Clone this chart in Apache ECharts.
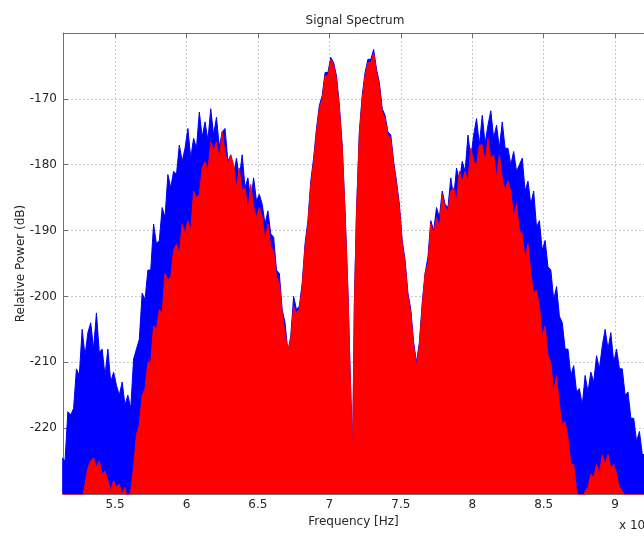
<!DOCTYPE html>
<html>
<head>
<meta charset="utf-8">
<title>Signal Spectrum</title>
<script src="https://cdn.jsdelivr.net/npm/echarts@6/dist/echarts.min.js"></script>
<style>
  html, body { margin: 0; padding: 0; background: #fff; }
  #spectrum { width: 644px; height: 539px; }
</style>
</head>
<body>
<div id="spectrum"></div>
<script>
// frequency in units of 1e9 Hz
var freqGHz = [
    5.13, 5.15, 5.17, 5.19, 5.21, 5.23, 5.25, 5.27, 5.29, 5.31,
    5.33, 5.35, 5.37, 5.39, 5.41, 5.43, 5.45, 5.47, 5.49, 5.51,
    5.53, 5.55, 5.57, 5.59, 5.61, 5.63, 5.65, 5.67, 5.69, 5.71,
    5.73, 5.75, 5.77, 5.79, 5.81, 5.83, 5.85, 5.87, 5.89, 5.91,
    5.93, 5.95, 5.97, 5.99, 6.01, 6.03, 6.05, 6.07, 6.09, 6.11,
    6.13, 6.15, 6.17, 6.19, 6.21, 6.23, 6.25, 6.27, 6.29, 6.31,
    6.33, 6.35, 6.37, 6.39, 6.41, 6.43, 6.45, 6.47, 6.49, 6.51,
    6.53, 6.55, 6.57, 6.59, 6.61, 6.63, 6.65, 6.67, 6.69, 6.71,
    6.73, 6.75, 6.77, 6.79, 6.81, 6.83, 6.85, 6.87, 6.89, 6.91,
    6.93, 6.95, 6.97, 6.99, 7.01, 7.03, 7.05, 7.07, 7.09, 7.11,
    7.13, 7.145, 7.155, 7.162, 7.168, 7.175, 7.19, 7.21, 7.23, 7.25,
    7.27, 7.29, 7.31, 7.33, 7.35, 7.37, 7.39, 7.41, 7.43, 7.45,
    7.47, 7.49, 7.51, 7.53, 7.55, 7.57, 7.59, 7.61, 7.63, 7.65,
    7.67, 7.69, 7.71, 7.73, 7.75, 7.77, 7.79, 7.81, 7.83, 7.85,
    7.87, 7.89, 7.91, 7.93, 7.95, 7.97, 7.99, 8.01, 8.03, 8.05,
    8.07, 8.09, 8.11, 8.13, 8.15, 8.17, 8.19, 8.21, 8.23, 8.25,
    8.27, 8.29, 8.31, 8.33, 8.35, 8.37, 8.39, 8.41, 8.43, 8.45,
    8.47, 8.49, 8.51, 8.53, 8.55, 8.57, 8.59, 8.61, 8.63, 8.65,
    8.67, 8.69, 8.71, 8.73, 8.75, 8.77, 8.79, 8.81, 8.83, 8.85,
    8.87, 8.89, 8.91, 8.93, 8.95, 8.97, 8.99, 9.01, 9.03, 9.05,
    9.07, 9.09, 9.11, 9.13, 9.15, 9.17, 9.19, 9.21, 9.23, 9.25,
    9.27, 9.29, 9.31
];

// blue trace (drawn behind)
var bluePower = [
    -224.5, -225, -217.5, -218, -217, -211, -212, -205, -209, -205.5,
    -204, -208, -202.5, -208.5, -208, -212, -208, -213, -211.5, -213.5,
    -215, -213, -216.5, -215, -217, -209.5, -208, -206.5, -199.5, -200.5,
    -196, -196, -189, -192, -191.5, -186.5, -188, -181.5, -183.5, -181,
    -181.5, -177, -179.5, -177.5, -174.5, -179, -176, -177.5, -172, -175.8,
    -173.5, -176.3, -171.5, -175.5, -172.8, -177.3, -175, -174.5, -179.5, -178.5,
    -181.5, -179, -182, -178.5, -183.5, -182, -185.5, -182, -185.5, -184.5,
    -186, -189, -187, -190.5, -191, -196, -196.5, -202, -204, -208.5,
    -206, -200, -202, -201.5, -198, -192, -188.5, -182.5, -179, -174.5,
    -171, -169.5, -166, -166, -163.7, -164.5, -166.5, -171, -177, -187,
    -199, -211, -218, -224.5, -214, -201, -187, -175, -169.5, -166,
    -164, -164, -162.5, -165.5, -167.5, -171.5, -172.5, -175, -175.5, -179.5,
    -182.5, -186, -191.5, -194.5, -199.5, -202, -207, -210, -207, -201,
    -196.5, -194, -188.5, -190, -186.5, -188, -184, -186, -186.5, -182,
    -185, -180.5, -182.5, -179.5, -181, -175.5, -179, -175.5, -173, -177,
    -172.5, -176.8, -174, -171.8, -176, -174, -177.5, -173.5, -177.5, -177.5,
    -180, -178, -181, -180, -179, -184, -182.5, -186, -184, -189.5,
    -188.5, -193, -191.5, -195.5, -196, -200.5, -198.5, -203, -204, -208,
    -208, -212, -210.5, -214.5, -214, -216.5, -212, -214.5, -211.5, -213,
    -209, -211, -207.5, -205, -208, -205.5, -210, -208, -211, -211,
    -215, -214.5, -218.5, -218.5, -222, -220.5, -224, -224, -226.5, -227.5,
    -229, -230, -231
];

// red trace (drawn on top)
var redPower = [
    -232, -232, -232, -232, -232, -232, -232, -231, -228.5, -226,
    -225, -224.5, -226, -225, -227, -226.5, -228, -229.5, -228, -229,
    -228.5, -230, -229, -231, -229.5, -226, -221, -219.5, -215, -214,
    -210, -210, -204.5, -205, -202, -202.5, -196.5, -197.5, -197, -193,
    -192, -193.5, -189, -190.5, -188.5, -190, -184, -185, -184.5, -180.5,
    -179.5, -181, -176.5, -178, -176.5, -179, -175, -178, -180, -178.5,
    -180, -183.5, -180.5, -184, -183.5, -187, -183, -186.5, -188, -186.5,
    -188, -191.5, -189, -192.5, -193, -197, -198, -202.5, -205.5, -208,
    -206.5, -201.5, -202.5, -202, -198.5, -192.5, -189, -183, -179.5, -175,
    -171.5, -170, -166.5, -166.5, -164, -165, -167, -171.5, -177.5, -187.5,
    -199.5, -211.5, -218.5, -225, -214.5, -201.5, -187.5, -175.5, -170, -166.5,
    -164.5, -164.5, -163, -166, -168, -172, -173, -175.5, -176, -180,
    -183, -186.5, -192, -195, -200, -202.5, -207.5, -210.5, -207.5, -201.5,
    -196.5, -195, -189, -190.5, -188, -189.5, -184.5, -186.5, -187, -184,
    -183.5, -185.5, -181, -182.5, -181, -182.5, -177.5, -179.5, -180, -177,
    -177, -179.5, -176, -179, -178.5, -182, -178.5, -182, -184, -182.5,
    -184, -188, -186, -190, -190.5, -194.5, -192, -196.5, -199.5, -199,
    -201.5, -206, -204.5, -209, -210, -214.5, -212, -216.5, -219.5, -219,
    -221.5, -225.5, -225.5, -229.5, -231, -231.5, -229.5, -229, -227, -227.5,
    -225.5, -227, -224, -225.5, -224, -226, -225.5, -227, -229, -229.5,
    -230.5, -232, -232, -232, -232, -232, -232, -232, -232, -232,
    -232, -232, -232
];

var xTickValues = [5.5, 6, 6.5, 7, 7.5, 8, 8.5, 9];
var xRange = [5.136, 9.3];
var yRange = [-230, -160];

function pairs(xs, ys) {
    var out = [];
    for (var i = 0; i < xs.length; i++) {
        out.push([xs[i], ys[i]]);
    }
    return out;
}

var fontFamily = "'DejaVu Sans', 'Liberation Sans', sans-serif";
var fontSize = 12;
var textColor = '#262626';
var gridStyle = { color: '#c8c8c8', type: [2, 2], width: 1 };
var boxStyle = { color: '#707070', width: 1 };

var option = {
    animation: false,
    backgroundColor: '#ffffff',
    textStyle: { fontFamily: fontFamily },
    title: {
        text: 'Signal Spectrum',
        left: 350,
        top: 10,
        textAlign: 'center',
        textStyle: { fontSize: fontSize, fontWeight: 'normal', color: textColor, fontFamily: fontFamily }
    },
    // the right edge of the axes box lies outside the picture
    grid: { left: 63, top: 33, width: 595, bottom: 45, outerBoundsMode: 'none', containLabel: false },
    xAxis: [{
        type: 'value',
        position: 'bottom',
        min: xRange[0],
        max: xRange[1],
        name: 'Frequency [Hz]',
        nameLocation: 'middle',
        nameGap: 21,
        nameTextStyle: { fontSize: fontSize, color: textColor, fontFamily: fontFamily, padding: [0, 14, 0, 0] },
        axisLine: { show: true, lineStyle: boxStyle },
        axisTick: { show: true, inside: true, length: 5, customValues: xTickValues, lineStyle: boxStyle },
        axisLabel: { customValues: xTickValues, margin: 5, fontSize: fontSize, color: textColor, fontFamily: fontFamily },
        splitLine: { show: true, lineStyle: gridStyle }
    }, {
        type: 'value',
        position: 'top',
        min: xRange[0],
        max: xRange[1],
        axisLine: { show: true, lineStyle: boxStyle },
        axisTick: { show: true, inside: true, length: 5, customValues: xTickValues, lineStyle: boxStyle },
        axisLabel: { show: false },
        splitLine: { show: false }
    }],
    yAxis: {
        type: 'value',
        min: yRange[0],
        max: yRange[1],
        interval: 10,
        name: 'Relative Power (dB)',
        nameLocation: 'middle',
        nameGap: 36,
        nameMoveOverlap: false,
        nameTextStyle: { fontSize: fontSize, color: textColor, fontFamily: fontFamily },
        axisLine: { show: true, lineStyle: boxStyle },
        axisTick: { show: true, inside: true, length: 5, lineStyle: boxStyle },
        axisLabel: { showMinLabel: false, showMaxLabel: false, margin: 6, fontSize: fontSize, color: textColor, fontFamily: fontFamily },
        splitLine: { show: true, lineStyle: gridStyle }
    },
    graphic: [{
        type: 'text',
        left: 619,
        top: 520,
        style: {
            text: '{a|x 10}{b|9}',
            rich: {
                a: { fontSize: fontSize, fill: textColor, fontFamily: fontFamily },
                b: { fontSize: 9, fill: textColor, fontFamily: fontFamily, verticalAlign: 'top' }
            }
        }
    }],
    series: [{
        name: 'blue',
        type: 'line',
        symbol: 'none',
        sampling: 'none',
        clip: true,
        lineStyle: { color: '#0000ff', width: 1 },
        areaStyle: { color: '#0000ff', opacity: 1, origin: 'start' },
        data: pairs(freqGHz, bluePower),
        z: 2
    }, {
        name: 'red',
        type: 'line',
        symbol: 'none',
        sampling: 'none',
        clip: true,
        lineStyle: { color: '#ff0000', width: 1 },
        areaStyle: { color: '#ff0000', opacity: 1, origin: 'start' },
        data: pairs(freqGHz, redPower),
        z: 3
    }]
};

var spectrumChart = echarts.init(document.getElementById('spectrum'));
spectrumChart.setOption(option);
</script>
</body>
</html>
